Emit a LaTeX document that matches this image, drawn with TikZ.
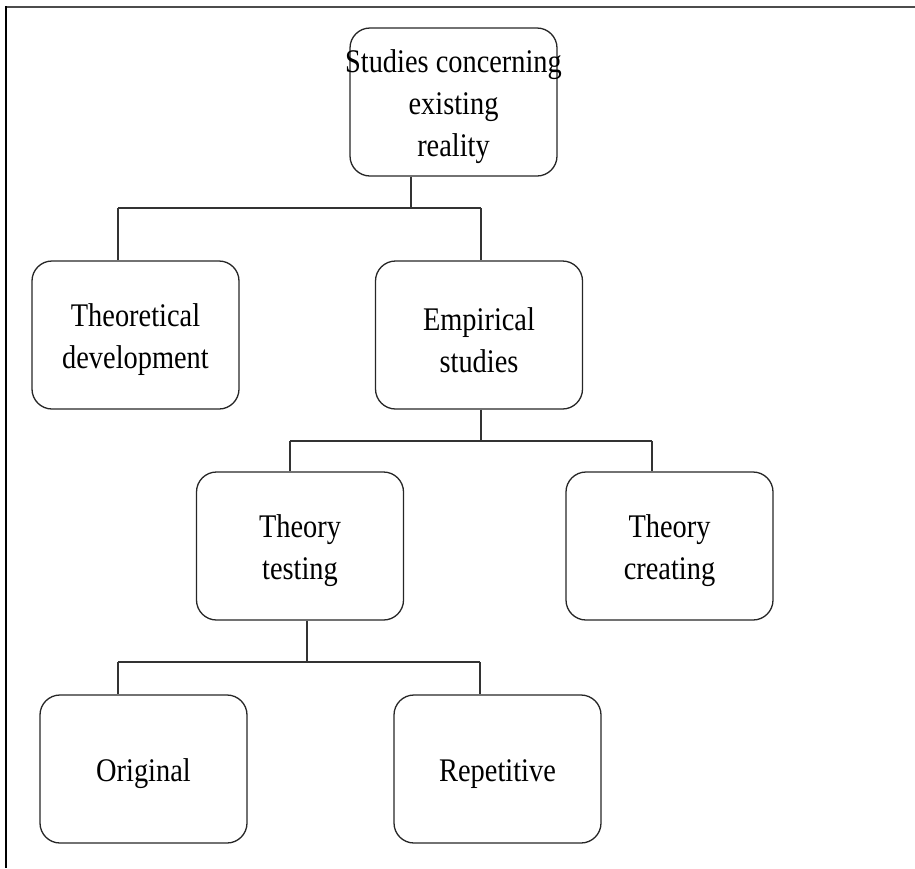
\documentclass[tikz,border=0pt]{standalone}
\usepackage{fontspec}
\newfontfamily\boxfont{Liberation Serif}[FakeStretch=0.86]
\begin{document}
\begin{tikzpicture}[x=1pt,y=-1pt,
  boxnode/.style={draw=black!85, line width=1.3pt, rounded corners=20pt,
    minimum width=207pt, minimum height=148pt, inner sep=0pt},
  boxlabel/.style={align=center, inner sep=0pt, yshift=-5pt,
    font=\boxfont\fontsize{33pt}{42pt}\selectfont},
  link/.style={draw=black!80, line width=1.3pt}]
\useasboundingbox (0,0) rectangle (915,868);

% frame: top and left edges only
\draw[black!70, line width=2pt] (5,6.5) -- (915,6.5);
\draw[black, line width=1.5pt] (6,6) -- (6,868);

% boxes
\node[boxnode] (top)    at (453.5,102) {};
\node[boxnode] (theo)   at (135.5,335) {};
\node[boxnode] (emp)    at (479,335)   {};
\node[boxnode] (test)   at (300,546)   {};
\node[boxnode] (create) at (669.5,546) {};
\node[boxnode] (orig)   at (143.5,769) {};
\node[boxnode] (rep)    at (497.5,769) {};

% box texts
\node[boxlabel] (top-t)    at (top)    {Studies concerning\\existing\\reality};
\node[boxlabel] (theo-t)   at (theo)   {Theoretical\\development};
\node[boxlabel] (emp-t)    at (emp)    {Empirical\\studies};
\node[boxlabel] (test-t)   at (test)   {Theory\\testing};
\node[boxlabel] (create-t) at (create) {Theory\\creating};
\node[boxlabel] (orig-t)   at (orig)   {Original};
\node[boxlabel] (rep-t)    at (rep)    {Repetitive};

% first level
\coordinate (j1) at (411,208);
\coordinate (d1) at (118,208);
\coordinate (d2) at (481,208);
\draw[link] (top.south -| j1) -- (j1);
\draw[link] (d1) -- (d2);
\draw[link] (d1) -- (d1 |- theo.north);
\draw[link] (d2) -- (d2 |- emp.north);

% second level
\coordinate (j2) at (481,441);
\coordinate (d3) at (290,441);
\coordinate (d4) at (652,441);
\draw[link] (emp.south -| j2) -- (j2);
\draw[link] (d3) -- (d4);
\draw[link] (d3) -- (d3 |- test.north);
\draw[link] (d4) -- (d4 |- create.north);

% third level
\coordinate (j3) at (307,662);
\coordinate (d5) at (118,662);
\coordinate (d6) at (480,662);
\draw[link] (test.south -| j3) -- (j3);
\draw[link] (d5) -- (d6);
\draw[link] (d5) -- (d5 |- orig.north);
\draw[link] (d6) -- (d6 |- rep.north);
\end{tikzpicture}
\end{document}
